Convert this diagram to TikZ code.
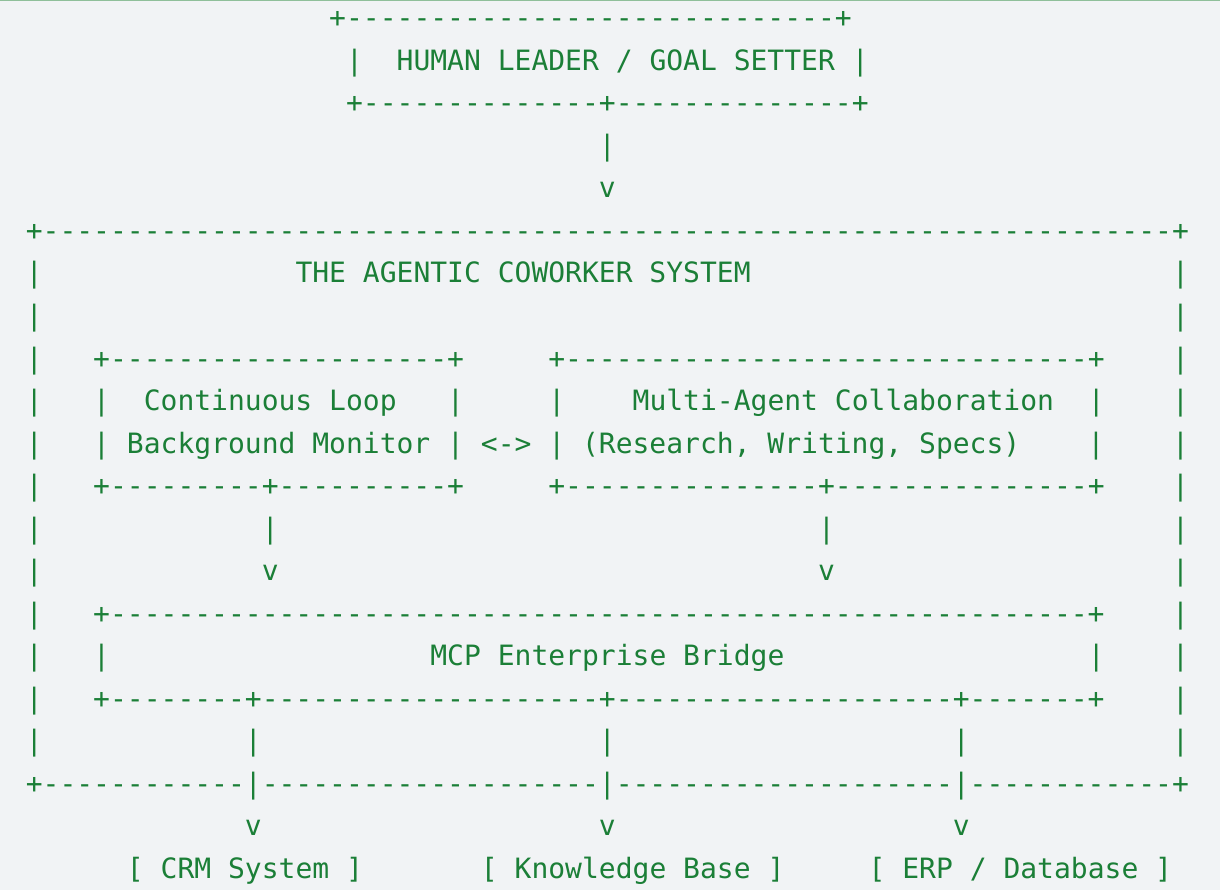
\documentclass[tikz,border=0pt]{standalone}
\usepackage{fontspec}
\setmonofont{DejaVu Sans Mono}
\definecolor{bg}{HTML}{F1F3F5}
\definecolor{ink}{HTML}{1B7F37}
\definecolor{topline}{HTML}{8FBF9A}
\makeatletter
\newcommand\rep[2]{\ifnum#1>0 #2\expandafter\rep\expandafter{\the\numexpr#1-1\relax}{#2}\fi}
\makeatother
\begin{document}
\begin{tikzpicture}[x=1pt,y=1pt,
  ln/.style={anchor=base west,inner sep=0pt,text=ink,font=\ttfamily\fontsize{28}{30}\selectfont}]
\fill[bg] (0,0) rectangle (1220,-890);
\useasboundingbox (0,0) rectangle (1220,-890);
\draw[topline,line width=1.2pt] (0,-0.6) -- (1220,-0.6);
\def\X{25.6}
\node[ln] (l1) at (\X,-28) {\rep{18}{~}+\rep{29}{-}+};
\node[ln] (l2) at (\X,-70.5) {\rep{19}{~}|~~HUMAN LEADER / GOAL SETTER~|};
\node[ln] (l3) at (\X,-113) {\rep{19}{~}+\rep{14}{-}+\rep{14}{-}+};
\node[ln] (l4) at (\X,-155.5) {\rep{34}{~}|};
\node[ln] (l5) at (\X,-198) {\rep{34}{~}v};
\node[ln] (l6) at (\X,-240.5) {+\rep{67}{-}+};
\node[ln] (l7) at (\X,-283) {|\rep{15}{~}THE AGENTIC COWORKER SYSTEM\rep{25}{~}|};
\node[ln] (l8) at (\X,-325.5) {|\rep{67}{~}|};
\node[ln] (l9) at (\X,-368) {|~~~+\rep{20}{-}+\rep{5}{~}+\rep{31}{-}+\rep{4}{~}|};
\node[ln] (l10) at (\X,-410.5) {|~~~|~~Continuous Loop~~~|\rep{5}{~}|\rep{4}{~}Multi-Agent Collaboration~~|\rep{4}{~}|};
\node[ln] (l11) at (\X,-453) {|~~~|~Background Monitor~|~<->~|~(Research, Writing, Specs)\rep{4}{~}|\rep{4}{~}|};
\node[ln] (l12) at (\X,-495.5) {|~~~+\rep{9}{-}+\rep{10}{-}+\rep{5}{~}+\rep{15}{-}+\rep{15}{-}+\rep{4}{~}|};
\node[ln] (l13) at (\X,-538) {|\rep{13}{~}|\rep{32}{~}|\rep{20}{~}|};
\node[ln] (l14) at (\X,-580.5) {|\rep{13}{~}v\rep{32}{~}v\rep{20}{~}|};
\node[ln] (l15) at (\X,-623) {|~~~+\rep{58}{-}+\rep{4}{~}|};
\node[ln] (l16) at (\X,-665.5) {|~~~|\rep{19}{~}MCP Enterprise Bridge\rep{18}{~}|\rep{4}{~}|};
\node[ln] (l17) at (\X,-708) {|~~~+\rep{8}{-}+\rep{20}{-}+\rep{20}{-}+\rep{7}{-}+\rep{4}{~}|};
\node[ln] (l18) at (\X,-750.5) {|\rep{12}{~}|\rep{20}{~}|\rep{20}{~}|\rep{12}{~}|};
\node[ln] (l19) at (\X,-793) {+\rep{12}{-}|\rep{20}{-}|\rep{20}{-}|\rep{12}{-}+};
\node[ln] (l20) at (\X,-835.5) {\rep{13}{~}v\rep{20}{~}v\rep{20}{~}v};
\node[ln] (l21) at (\X,-878) {\rep{6}{~}[ CRM System ]\rep{7}{~}[ Knowledge Base ]\rep{5}{~}[ ERP / Database ]};
\end{tikzpicture}
\end{document}
